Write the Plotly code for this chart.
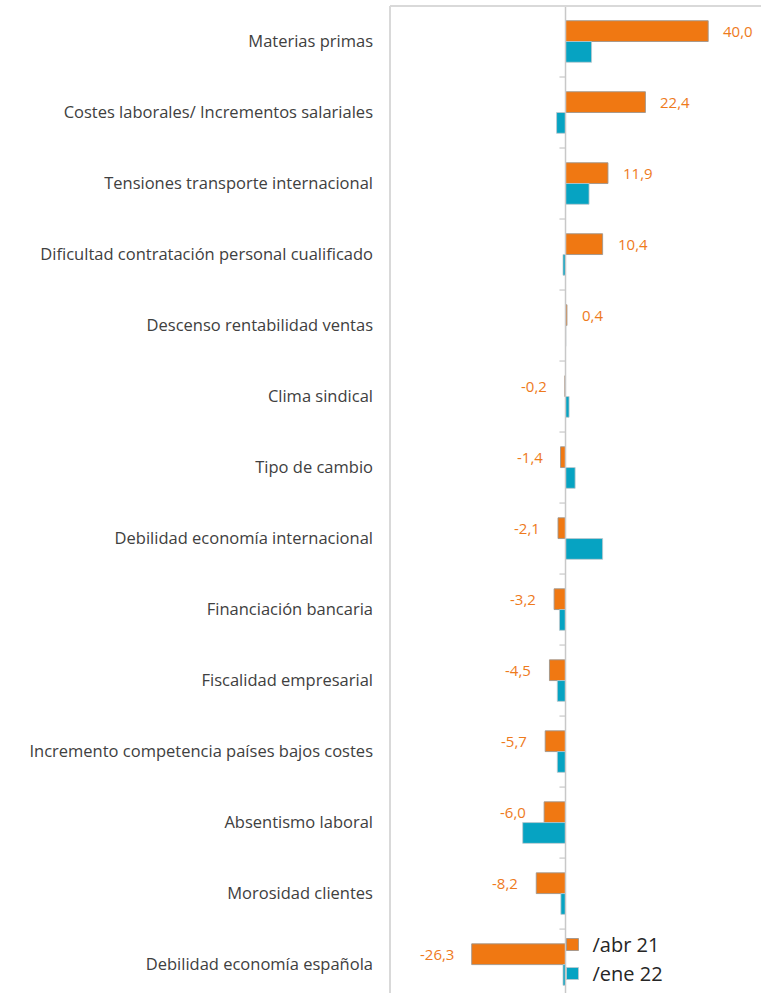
import plotly.graph_objects as go

categories = [
    "Materias primas",
    "Costes laborales/ Incrementos salariales",
    "Tensiones transporte internacional",
    "Dificultad contratación personal cualificado",
    "Descenso rentabilidad ventas",
    "Clima sindical",
    "Tipo de cambio",
    "Debilidad economía internacional",
    "Financiación bancaria",
    "Fiscalidad empresarial",
    "Incremento competencia países bajos costes",
    "Absentismo laboral",
    "Morosidad clientes",
    "Debilidad economía española",
]
abr21 = [40.0, 22.4, 11.9, 10.4, 0.4, -0.2, -1.4, -2.1, -3.2, -4.5, -5.7, -6.0, -8.2, -26.3]
ene22 = [7.3, -2.5, 6.6, -0.7, 0.1, 1.0, 2.7, 10.4, -1.7, -2.3, -2.3, -12.0, -1.3, -0.7]
series_names = ["/abr 21", "/ene 22"]

ORANGE = "#F07812"
TEAL = "#06A3C2"
LABEL_ORANGE = "#EE7A1C"
GRID = "#D9D9D9"

idx = list(range(len(categories)))
BARGAP = 0.415

fig = go.Figure()
fig.add_trace(go.Bar(
    y=idx, x=abr21, orientation="h", name=series_names[0],
    marker=dict(color=ORANGE, line=dict(color="rgba(160,150,140,0.9)", width=1)),
))
fig.add_trace(go.Bar(
    y=idx, x=ene22, orientation="h", name=series_names[1],
    marker=dict(color=TEAL, line=dict(color="rgba(190,200,205,0.8)", width=1)),
))

half = (1 - BARGAP) / 4
for i, v in enumerate(abr21):
    fig.add_annotation(
        x=v, y=i - half, xref="x", yref="y",
        text=f"{v:.1f}".replace(".", ","),
        showarrow=False,
        xanchor="left" if v >= 0 else "right",
        xshift=13 if v >= 0 else -16,
        font=dict(family="Open Sans", size=15, color=LABEL_ORANGE),
    )

shapes = []
shapes.append(dict(type="line", xref="x", yref="paper", x0=0, x1=0, y0=0, y1=1,
                   line=dict(color="#C8C8C8", width=1.5), layer="above"))
for i in range(len(categories)):
    b = i - 0.5
    shapes.append(dict(type="line", xref="x", yref="y", x0=-1.7, x1=0, y0=b, y1=b,
                       line=dict(color="#C8C8C8", width=1.2)))
shapes.append(dict(type="line", xref="paper", yref="paper", x0=0, x1=0, y0=0, y1=1,
                   line=dict(color=GRID, width=2)))
shapes.append(dict(type="line", xref="paper", yref="paper", x0=0, x1=1, y0=1, y1=1,
                   line=dict(color=GRID, width=2)))

fig.update_layout(
    width=761, height=993,
    margin=dict(l=390, r=0, t=6, b=0),
    paper_bgcolor="white", plot_bgcolor="white",
    barmode="group", bargap=BARGAP, bargroupgap=0,
    shapes=shapes,
    showlegend=True,
    legend=dict(
        x=0.438, y=0.0, xanchor="left", yanchor="bottom",
        bgcolor="rgba(255,255,255,0)",
        font=dict(family="Open Sans", size=20, color="#262626"),
        itemwidth=30, tracegroupgap=0,
    ),
    font=dict(family="Open Sans"),
)
fig.update_xaxes(range=[-49.2, 54.8], showgrid=False, zeroline=False,
                 showticklabels=False, ticks="", showline=False)
fig.update_yaxes(
    tickmode="array", tickvals=idx, ticktext=categories,
    range=[13.4, -0.5], showgrid=False, zeroline=False, ticks="",
    ticklabelstandoff=16,
    tickfont=dict(family="Open Sans", size=16.5, color="#404040"),
)

fig.write_html("out.html")
